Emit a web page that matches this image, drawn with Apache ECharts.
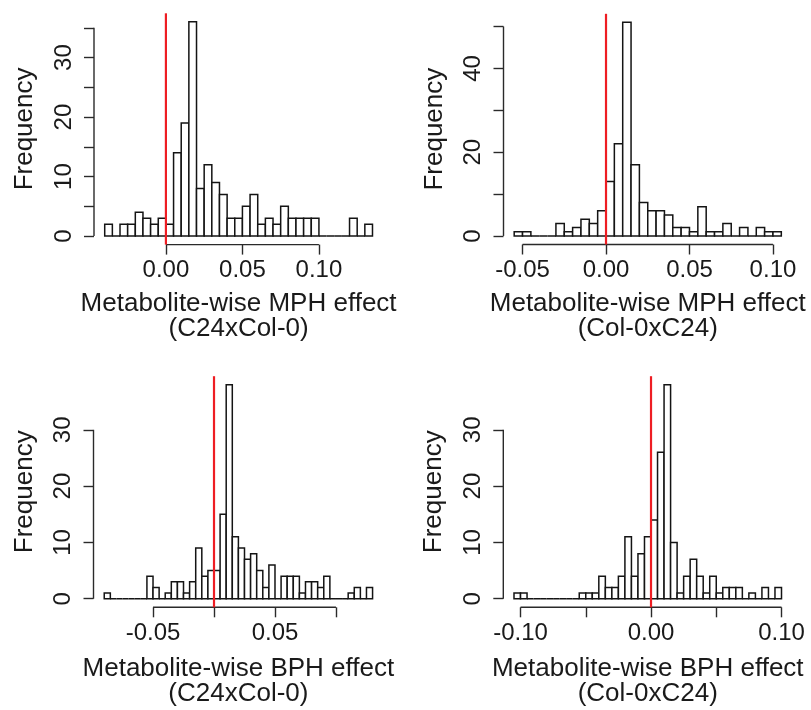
<!DOCTYPE html>
<html><head><meta charset="utf-8">
<script src="https://cdn.jsdelivr.net/npm/echarts@6/dist/echarts.min.js"></script>
<style>html,body{margin:0;padding:0;background:#fff}#c{width:811px;height:710px}</style>
</head><body><div id="c"></div>
<script>
// ---- data (histogram counts, bins of width 0.005) ----
const binWidth = 0.005;

const p1Start = -0.040;
const p1Counts = [2,0,2,2,4,3,2,3,2,14,19,36,8,12,9,7,3,3,5,7,2,3,2,5,3,3,3,3,0,0,0,0,3,0,2];
const p1XTicks = [0, 0.05, 0.10];
const p1XLabels = [0, 0.05, 0.10];
const p1YTicks = [0, 5, 10, 15, 20, 25, 30, 35];
const p1YLabels = [0, 10, 20, 30];
const p1Name = "Metabolite-wise MPH effect\n(C24xCol-0)";

const p2Start = -0.055;
const p2Counts = [1,1,0,0,0,3,1,2,4,3,6,13,22,51,17,8,6,6,5,2,2,1,7,1,1,3,0,2,0,2,1,1];
const p2XTicks = [-0.05, 0, 0.05, 0.10];
const p2XLabels = [-0.05, 0, 0.05, 0.10];
const p2YTicks = [0, 10, 20, 30, 40, 50];
const p2YLabels = [0, 20, 40];
const p2Name = "Metabolite-wise MPH effect\n(Col-0xC24)";

const p3Start = -0.090;
const p3Counts = [1,0,0,0,0,0,0,4,2,0,1,3,3,1,3,9,4,5,5,15,38,11,9,7,8,5,2,6,0,4,4,4,1,3,3,2,4,0,0,0,1,2,0,2];
const p3XTicks = [-0.05, 0, 0.05, 0.10];
const p3XLabels = [-0.05, 0.05];
const p3YTicks = [0, 10, 20, 30];
const p3YLabels = [0, 10, 20, 30];
const p3Name = "Metabolite-wise BPH effect\n(C24xCol-0)";

const p4Start = -0.105;
const p4Counts = [1,1,0,0,0,0,0,0,0,0,1,1,1,4,2,2,4,11,4,8,11,14,26,38,10,1,4,7,4,1,4,1,2,2,2,0,1,0,2,0,2];
const p4XTicks = [-0.10, -0.05, 0, 0.05, 0.10];
const p4XLabels = [-0.10, 0, 0.10];
const p4YTicks = [0, 10, 20, 30];
const p4YLabels = [0, 10, 20, 30];
const p4Name = "Metabolite-wise BPH effect\n(Col-0xC24)";

const refLine = 0;

// ---- layout ----
const FONT = "'Liberation Sans', Arial, Helvetica, sans-serif";
const INK = '#1a1a1a';
const grids = [
  {left: 94,    top: 13.3,  width: 289.2, height: 231.3},
  {left: 503.5, top: 13.8,  width: 288.5, height: 230.7},
  {left: 93.5,  top: 376.2, width: 289.8, height: 231.1},
  {left: 503.3, top: 376.2, width: 288.9, height: 231.1}
];
const nameGaps = [47, 47, 49.5, 49.5];
const panels = [
  {start: p1Start, counts: p1Counts, xt: p1XTicks, xl: p1XLabels, yt: p1YTicks, yl: p1YLabels, name: p1Name},
  {start: p2Start, counts: p2Counts, xt: p2XTicks, xl: p2XLabels, yt: p2YTicks, yl: p2YLabels, name: p2Name},
  {start: p3Start, counts: p3Counts, xt: p3XTicks, xl: p3XLabels, yt: p3YTicks, yl: p3YLabels, name: p3Name},
  {start: p4Start, counts: p4Counts, xt: p4XTicks, xl: p4XLabels, yt: p4YTicks, yl: p4YLabels, name: p4Name}
];

const xAxis = [], yAxis = [], series = [];
panels.forEach((p, i) => {
  const lo = p.start, hi = p.start + p.counts.length * binWidth;
  const xr = hi - lo;
  const xMin = lo - 0.04 * xr, xMax = hi + 0.04 * xr;
  const cMax = Math.max(...p.counts);
  const yMin = -0.04 * cMax, yMax = 1.04 * cMax;

  xAxis.push({
    gridIndex: i, type: 'value', min: xMin, max: xMax,
    axisLine: {show: false, onZero: false}, splitLine: {show: false},
    axisTick: {show: true, customValues: p.xt, length: 10, lineStyle: {color: '#2a2a2a', width: 1.4}},
    axisLabel: {customValues: p.xl, formatter: v => Number(v).toFixed(2), fontSize: 24, color: INK, fontFamily: FONT, margin: 14},
    name: p.name, nameLocation: 'middle', nameGap: nameGaps[i],
    nameTextStyle: {fontSize: 26, lineHeight: 25, color: INK, fontFamily: FONT}
  });
  yAxis.push({
    gridIndex: i, type: 'value', min: yMin, max: yMax,
    axisLine: {show: false, onZero: false}, splitLine: {show: false},
    axisTick: {show: true, customValues: p.yt, length: 10, lineStyle: {color: '#2a2a2a', width: 1.4}},
    axisLabel: {customValues: p.yl, rotate: 90, formatter: v => String(v), fontSize: 24, color: INK, fontFamily: FONT, margin: 18},
    name: 'Frequency', nameLocation: 'middle', nameRotate: 90, nameGap: 56,
    nameTextStyle: {fontSize: 26, color: INK, fontFamily: FONT}
  });

  // histogram bars
  series.push({
    type: 'custom', xAxisIndex: i, yAxisIndex: i, silent: true, animation: false, clip: false,
    data: p.counts.map((c, k) => [lo + k * binWidth, lo + (k + 1) * binWidth, c]),
    encode: {x: [0, 1], y: 2},
    renderItem: (params, api) => {
      const a = api.coord([api.value(0), api.value(2)]);
      const b = api.coord([api.value(1), 0]);
      return {type: 'rect', shape: {x: a[0], y: a[1], width: b[0] - a[0], height: b[1] - a[1]},
              style: {fill: '#fff', stroke: '#141414', lineWidth: 1.5}};
    }
  });
  // R-style axis lines (from first to last tick)
  series.push({
    type: 'custom', xAxisIndex: i, yAxisIndex: i, silent: true, animation: false, clip: false,
    data: [[p.xt[0], 0]],
    renderItem: (params, api) => {
      const x0 = api.coord([p.xt[0], yMin]), x1 = api.coord([p.xt[p.xt.length - 1], yMin]);
      const y0 = api.coord([xMin, p.yt[0]]), y1 = api.coord([xMin, p.yt[p.yt.length - 1]]);
      return {type: 'group', children: [
        {type: 'line', shape: {x1: x0[0], y1: x0[1], x2: x1[0], y2: x1[1]}, style: {stroke: '#2a2a2a', lineWidth: 1.4}},
        {type: 'line', shape: {x1: y0[0], y1: y0[1], x2: y1[0], y2: y1[1]}, style: {stroke: '#2a2a2a', lineWidth: 1.4}}
      ]};
    }
  });
  // red reference line at 0
  series.push({
    type: 'custom', xAxisIndex: i, yAxisIndex: i, silent: true, animation: false, clip: false,
    data: [[refLine, 0]],
    renderItem: (params, api) => {
      const a = api.coord([api.value(0), yMin]), b = api.coord([api.value(0), yMax]);
      return {type: 'line', shape: {x1: a[0], y1: a[1], x2: b[0], y2: b[1]}, style: {stroke: '#ee1d23', lineWidth: 2.2}};
    }
  });
});

const chart = echarts.init(document.getElementById('c'), null, {renderer: 'canvas'});
chart.setOption({
  animation: false,
  backgroundColor: '#fff',
  grid: grids.map(g => Object.assign({containLabel: false}, g)),
  xAxis, yAxis, series
});
</script>
</body></html>
